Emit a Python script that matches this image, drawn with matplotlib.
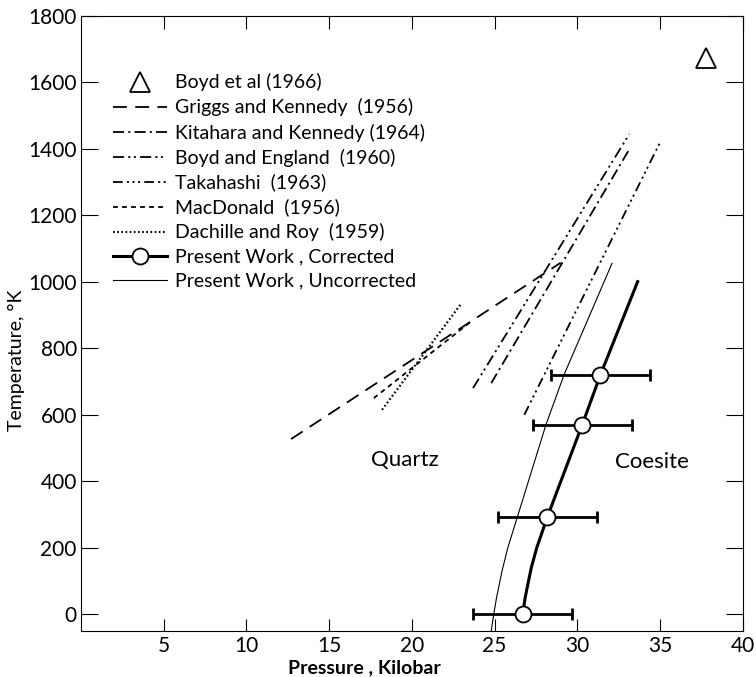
import matplotlib
matplotlib.use("Agg")
import matplotlib.pyplot as plt
from matplotlib.lines import Line2D

plt.rcParams['font.family'] = ['Lato', 'DejaVu Sans']
plt.rcParams['lines.scale_dashes'] = False

# ---------- data (pressure in kbar, temperature in K) ----------
boyd_1966_p = [37.8]
boyd_1966_t = [1672]

griggs_p = [12.7, 29.0]
griggs_t = [527, 1057]

kitahara_p = [24.8, 33.1]
kitahara_t = [695, 1394]

boyd_england_p = [23.7, 33.15]
boyd_england_t = [680, 1444]

takahashi_p = [26.8, 35.0]
takahashi_t = [600, 1418]

macdonald_p = [17.7, 23.7]
macdonald_t = [650, 885]

dachille_p = [18.2, 23.0]
dachille_t = [615, 935]

# present work, corrected: measured points with pressure error bars
corr_pts_p = [26.7, 28.2, 30.3, 31.4]
corr_pts_t = [0, 294, 570, 720]
corr_err = [3.0, 3.0, 3.0, 3.0]

# corrected curve
corr_curve_p = [26.7, 26.85, 26.97, 27.22, 27.55, 28.2, 30.3, 31.4, 33.65]
corr_curve_t = [0, 50, 80, 140, 200, 294, 570, 720, 1000]

# uncorrected curve
uncorr_p = [24.8, 24.95, 25.12, 25.45, 25.8, 26.3, 28.1, 29.2, 32.1]
uncorr_t = [-50, 0, 50, 130, 200, 280, 569, 720, 1055]

x_ticks = [5, 10, 15, 20, 25, 30, 35, 40]
y_ticks = [0, 200, 400, 600, 800, 1000, 1200, 1400, 1600, 1800]

# ---------- figure ----------
fig = plt.figure(figsize=(7.56, 6.77), dpi=100)
ax = fig.add_axes([0.1071, 0.0684, 0.8753, 0.9087])

K = 'black'
ax.plot(griggs_p, griggs_t, color=K, lw=1.3, dashes=(10, 6))
ax.plot(kitahara_p, kitahara_t, color=K, lw=1.3, dashes=(8, 3, 1.5, 3))
ax.plot(boyd_england_p, boyd_england_t, color=K, lw=1.3, dashes=(8, 3, 1.5, 2.5, 1.5, 3))
ax.plot(takahashi_p, takahashi_t, color=K, lw=1.3, dashes=(7, 3, 1.5, 2.5, 1.5, 2.5, 1.5, 3))
ax.plot(macdonald_p, macdonald_t, color=K, lw=1.3, dashes=(3.5, 3))
ax.plot(dachille_p, dachille_t, color=K, lw=1.6, dashes=(1.2, 1.8))

ax.plot(uncorr_p, uncorr_t, color=K, lw=0.8)
ax.plot(corr_curve_p, corr_curve_t, color=K, lw=2.2)
ax.errorbar(corr_pts_p, corr_pts_t, xerr=corr_err, fmt='none', ecolor=K,
            elinewidth=2, capsize=4, capthick=2, zorder=3)
ax.plot(corr_pts_p, corr_pts_t, ls='none', marker='o', ms=11.5, mfc='white',
        mec=K, mew=1.3, zorder=4)

ax.plot(boyd_1966_p, boyd_1966_t, ls='none', marker='^', ms=14, mfc='none',
        mec=K, mew=1.3)

ax.text(19.6, 464, 'Quartz', fontsize=16, ha='center', va='center')
ax.text(34.5, 458, 'Coesite', fontsize=16, ha='center', va='center')

# ---------- axes ----------
ax.set_xlim(0, 40)
ax.set_ylim(-49, 1800)
ax.set_xticks(x_ticks)
ax.set_yticks(y_ticks)
ax.tick_params(axis='both', direction='in', labelsize=15, width=0.8)
ax.tick_params(axis='y', length=12, right=True, pad=3)
ax.tick_params(axis='x', length=9, top=True, pad=4)
for s in ax.spines.values():
    s.set_linewidth(0.8)

ax.set_xlabel('Pressure , Kilobar', fontsize=14, fontweight='bold')
ax.xaxis.set_label_coords(0.428, -0.046)
ax.set_ylabel('Temperature, °K', fontsize=14)
ax.yaxis.set_label_coords(-0.084, 0.44)

# ---------- legend ----------
handles = [
    Line2D([], [], ls='none', marker='^', ms=14, mfc='none', mec=K, mew=1.3),
    Line2D([], [], color=K, lw=1.3, dashes=(10, 6)),
    Line2D([], [], color=K, lw=1.3, dashes=(8, 3, 1.5, 3)),
    Line2D([], [], color=K, lw=1.3, dashes=(8, 3, 1.5, 2.5, 1.5, 3)),
    Line2D([], [], color=K, lw=1.3, dashes=(7, 3, 1.5, 2.5, 1.5, 2.5, 1.5, 3)),
    Line2D([], [], color=K, lw=1.3, dashes=(3.5, 3)),
    Line2D([], [], color=K, lw=1.6, dashes=(1.2, 1.8)),
    Line2D([], [], color=K, lw=2.2, marker='o', ms=11.5, mfc='white', mec=K, mew=1.3),
    Line2D([], [], color=K, lw=0.8),
]
labels = [
    'Boyd et al (1966)',
    'Griggs and Kennedy  (1956)',
    'Kitahara and Kennedy (1964)',
    'Boyd and England  (1960)',
    'Takahashi  (1963)',
    'MacDonald  (1956)',
    'Dachille and Roy  (1959)',
    'Present Work , Corrected',
    'Present Work , Uncorrected',
]
ax.legend(handles, labels, loc='upper left', bbox_to_anchor=(0.048, 0.906),
          frameon=False, fontsize=14, handlelength=2.8, handletextpad=0.4,
          labelspacing=0.36, borderpad=0, borderaxespad=0, numpoints=1)

fig.savefig('out.png', dpi=100)
